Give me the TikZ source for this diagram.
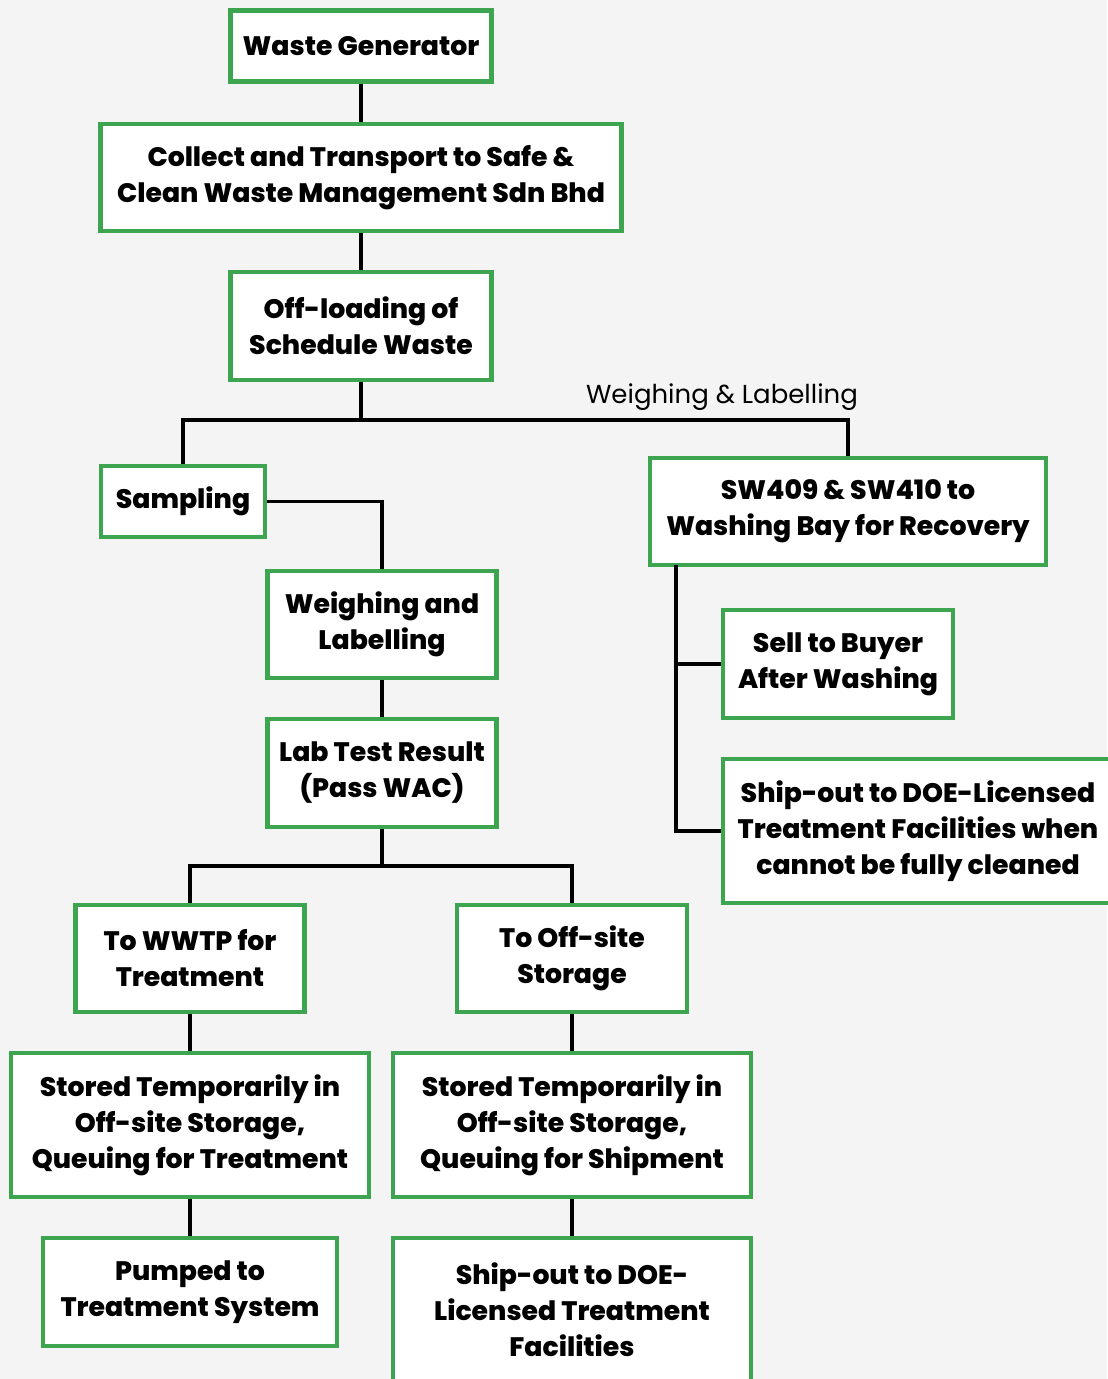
\documentclass[tikz,border=0pt]{standalone}
\usepackage{fontspec}
\setmainfont{Poppins}[BoldFont={Poppins ExtraBold}]
\usepackage{tikz}
\usetikzlibrary{positioning}
\definecolor{boxgreen}{HTML}{3DA54F}
\definecolor{bggray}{HTML}{F4F4F4}

\begin{document}
\begin{tikzpicture}
\tikzstyle{every path}=[line width=2pt];
\tikzstyle{wastebox}=[draw=boxgreen, line width=2.3pt, fill=white, align=center, inner sep=0pt, font=\fontsize{15.2}{20.5}\selectfont\bfseries];
\fill[bggray] (0,0) rectangle (22.14,-27.58);
\useasboundingbox (0,0) rectangle (22.14,-27.58);
\path (7.22,-0.92) node (gen)[wastebox, minimum width=5.22cm, minimum height=1.42cm] {Waste Generator}
(7.22,-3.55) node (collect)[wastebox, minimum width=10.42cm, minimum height=2.14cm] {Collect and Transport to Safe \&\\Clean Waste Management Sdn Bhd}
(7.22,-6.52) node (offload)[wastebox, minimum width=5.22cm, minimum height=2.16cm] {Off-loading of\\Schedule Waste}
(3.66,-10.03) node (sampling)[wastebox, minimum width=3.28cm, minimum height=1.42cm] {Sampling}
(16.96,-10.23) node (washing)[wastebox, minimum width=7.92cm, minimum height=2.14cm] {SW409 \& SW410 to\\Washing Bay for Recovery}
(7.64,-12.49) node (weigh)[wastebox, minimum width=4.58cm, minimum height=2.14cm] {Weighing and\\Labelling}
(7.64,-15.46) node (lab)[wastebox, minimum width=4.58cm, minimum height=2.16cm] {Lab Test Result\\(Pass WAC)}
(16.76,-13.28) node (sell)[wastebox, minimum width=4.6cm, minimum height=2.16cm] {Sell to Buyer\\After Washing}
(18.36,-16.62) node (shipwash)[wastebox, minimum width=7.8cm, minimum height=2.88cm] {Ship-out to DOE-Licensed\\Treatment Facilities when\\cannot be fully cleaned}
(3.8,-19.17) node (wwtp)[wastebox, minimum width=4.58cm, minimum height=2.14cm] {To WWTP for\\Treatment}
(11.44,-19.17) node (offsite)[wastebox, minimum width=4.6cm, minimum height=2.14cm] {To Off-site\\Storage}
(3.8,-22.5) node (storedtreat)[wastebox, minimum width=7.16cm, minimum height=2.88cm] {Stored Temporarily in\\Off-site Storage,\\Queuing for Treatment}
(11.44,-22.5) node (storedship)[wastebox, minimum width=7.16cm, minimum height=2.88cm] {Stored Temporarily in\\Off-site Storage,\\Queuing for Shipment}
(3.8,-25.84) node (pumped)[wastebox, minimum width=5.88cm, minimum height=2.16cm] {Pumped to\\Treatment System}
(11.44,-26.2) node (shipout)[wastebox, minimum width=7.16cm, minimum height=2.88cm] {Ship-out to DOE-\\Licensed Treatment\\Facilities};
\coordinate (split1) at (7.22,-8.4);
\coordinate (split2) at (7.64,-17.32);
\coordinate (trunk) at (13.52,-11.3);
\node (weighlabel) at (14.44,-7.94) {\fontsize{14.8}{20.5}\selectfont Weighing \& Labelling};
\draw (gen) -- (collect);
\draw (collect) -- (offload);
\draw (offload) -- (split1);
\draw (sampling) |- (split1) -| (washing);
\draw (sampling) -| (weigh);
\draw (weigh) -- (lab);
\draw (lab) -- (split2);
\draw (wwtp) |- (split2) -| (offsite);
\draw (wwtp) -- (storedtreat);
\draw (storedtreat) -- (pumped);
\draw (offsite) -- (storedship);
\draw (storedship) -- (shipout);
\draw (trunk) |- (shipwash);
\draw (trunk |- sell) -- (sell);
\end{tikzpicture}
\end{document}
